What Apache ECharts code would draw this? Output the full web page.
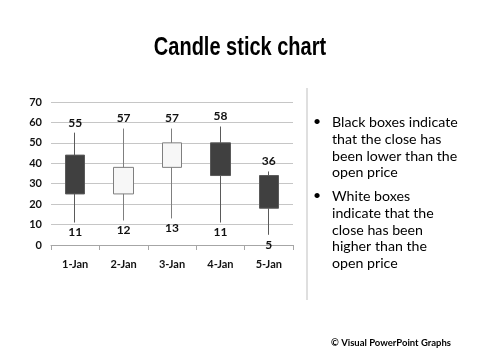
<!DOCTYPE html>
<html><head><meta charset="utf-8">
<script src="https://cdn.jsdelivr.net/npm/echarts@6/dist/echarts.min.js"></script>
<style>html,body{margin:0;padding:0;background:#fff}#c{width:480px;height:360px}</style>
</head><body><div id="c"></div>
<script>
var categories = ['1-Jan','2-Jan','3-Jan','4-Jan','5-Jan'];
var openVals  = [44, 25, 38, 50, 34];
var closeVals = [25, 38, 50, 34, 18];
var lowVals   = [11, 12, 13, 11, 5];
var highVals  = [55, 57, 57, 58, 36];
var yTicks = {min: 0, max: 70, interval: 10};

var candleData = categories.map(function(c, i){ return [openVals[i], closeVals[i], lowVals[i], highVals[i]]; });
var chart = echarts.init(document.getElementById('c'));
var F = 'Lato, "Open Sans", sans-serif';
var lblStyle = {show: true, fontFamily: F, fontWeight: 'bold', fontSize: 12, color: '#111', distance: 4, opacity: 1,
  formatter: function(p){ return p.value[1]; }};
chart.setOption({
  animation: false,
  grid: {left: 51, right: 187, top: 102, bottom: 115},
  xAxis: {type: 'category', data: categories, boundaryGap: true,
    axisLine: {lineStyle: {color: '#a6a6a6'}},
    axisTick: {show: true, length: 5, lineStyle: {color: '#a6a6a6'}},
    axisLabel: {fontFamily: F, fontWeight: 'bold', fontSize: 11, color: '#111', margin: 14}},
  yAxis: {type: 'value', min: yTicks.min, max: yTicks.max, interval: yTicks.interval,
    axisLine: {show: false}, axisTick: {show: false},
    splitLine: {lineStyle: {color: '#c6c6c6'}},
    axisLabel: {fontFamily: F, fontWeight: 'bold', fontSize: 11, color: '#111', margin: 9}},
  series: [
    {type: 'candlestick', data: candleData, barWidth: 20,
      itemStyle: {color: '#f7f7f7', color0: '#404040', borderColor: '#7f7f7f', borderColor0: '#5a5a5a', borderWidth: 1}},
    {type: 'scatter', symbolSize: 0, itemStyle: {opacity: 1}, data: categories.map(function(c,i){return [i, highVals[i]];}),
      label: Object.assign({}, lblStyle, {position: 'top'}), silent: true},
    {type: 'scatter', symbolSize: 0, itemStyle: {opacity: 1}, data: categories.map(function(c,i){return [i, lowVals[i]];}),
      label: Object.assign({}, lblStyle, {position: 'bottom'}), silent: true}
  ],
  graphic: [
    {type: 'text', x: 240, y: 48, scaleX: 0.8, style: {text: 'Candle stick chart', font: 'bold 25px "Liberation Sans", Arial, sans-serif', fill: '#000', align: 'center', verticalAlign: 'middle'}},
    {type: 'line', shape: {x1: 307, y1: 88, x2: 307, y2: 300}, style: {stroke: '#bfbfbf', lineWidth: 1}},
    {type: 'text', left: 313, top: 114, style: {text: '•', font: '14px Lato', fill: '#000'}},
    {type: 'text', left: 332, top: 114, style: {text: 'Black boxes indicate\nthat the close has\nbeen lower than the\nopen price', font: '14.2px Lato', lineHeight: 16.8, fill: '#000'}},
    {type: 'text', left: 313, top: 188, style: {text: '•', font: '14px Lato', fill: '#000'}},
    {type: 'text', left: 332, top: 188, style: {text: 'White boxes\nindicate that the\nclose has been\nhigher than the\nopen price', font: '14.2px Lato', lineHeight: 16.8, fill: '#000'}},
    {type: 'text', left: 331, top: 338, style: {text: '© Visual PowerPoint Graphs', font: 'bold 9.5px Lato', fill: '#000'}}
  ]
});
</script></body></html>
